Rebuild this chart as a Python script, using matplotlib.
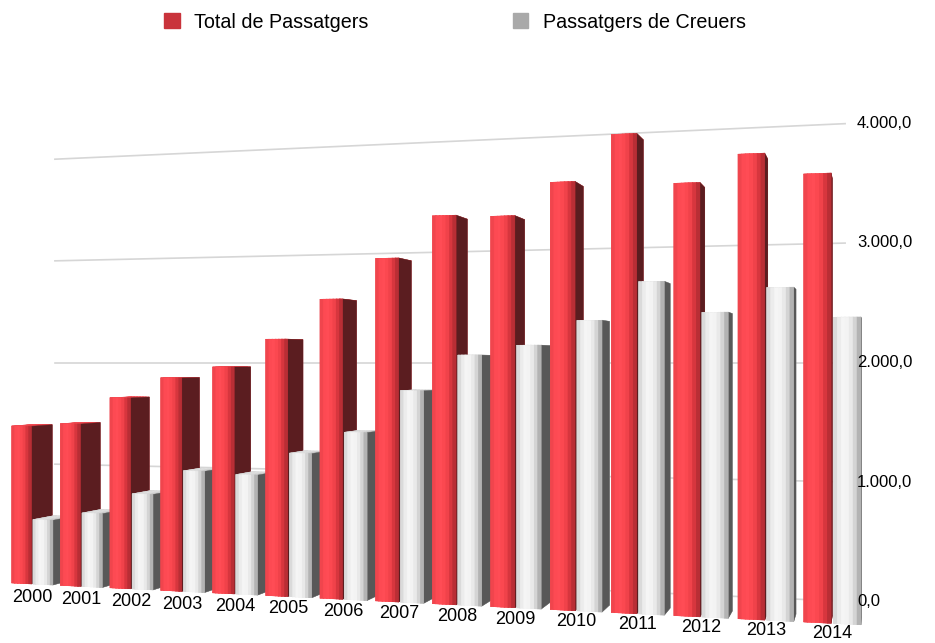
import matplotlib
matplotlib.use('Agg')
import matplotlib.pyplot as plt
from matplotlib.patches import Patch
from matplotlib.transforms import ScaledTranslation
from mpl_toolkits.mplot3d import proj3d
import numpy as np

plt.rcParams['font.family'] = ['Liberation Sans', 'DejaVu Sans']

years = ['2000', '2001', '2002', '2003', '2004', '2005', '2006', '2007',
         '2008', '2009', '2010', '2011', '2012', '2013', '2014']
total = [1424, 1450, 1687, 1865, 1961, 2200, 2537, 2873,
         3216, 3198, 3459, 3824, 3416, 3626, 3453]
creuers = [582, 656, 840, 1054, 1032, 1226, 1411, 1765,
           2061, 2141, 2339, 2643, 2394, 2582, 2347]
ticks = [0, 1000, 2000, 3000, 4000]
tick_labels = ['0,0', '1.000,0', '2.000,0', '3.000,0', '4.000,0']
labels = ['Total de Passatgers', 'Passatgers de Creuers']

# scene geometry (world units: one year slot = 1)
bar_w = 0.41
gap = 0.03
depth = 0.6
wall_y = 1.9
zu = 1.986 / 1000          # world units per passenger
cam_x, cam_y, cam_z = 15.0, -20.0, 2000
yaw = np.arctan(0.256)
f_px = 1282.0
cx, cy = 543.0, 643 - 362.5  # principal point in figure pixels

W_FIG, H_FIG = 935, 643
half = 10.0
s = (1.0 - cam_y) / np.cos(yaw)
tx = cam_x - s * np.sin(yaw)
norm = (1.8294640721620434 * 25 / 24 / np.sqrt(3)) / (2 * half)
f_len = norm * s / 10
W = f_px * 0.185 / f_len
off = 0.095 / 0.185 * W

fig = plt.figure(figsize=(W_FIG / 100, H_FIG / 100), dpi=100)
fig.patch.set_facecolor('white')
ax = fig.add_axes([(cx - off) / W_FIG, (cy - off) / H_FIG, W / W_FIG, W / H_FIG],
                  projection='3d', computed_zorder=False)
ax.set_proj_type('persp', focal_length=f_len)
ax.view_init(elev=0, azim=np.degrees(yaw) - 90)
ax.set_box_aspect((1, 1, 1))
ax.set_axis_off()

# back wall grid
for t in ticks:
    ax.plot([-0.45, 14.58], [wall_y, wall_y], [t, t], color='#d6d6d6', lw=1.2, zorder=1)

# bars: each front split in strips to fake the rounded shading
red_front = ['#f0454d', '#fd4a53', '#ff4c55', '#fb4850', '#f0424a', '#d7363e', '#b92e35']
white_front = ['#dadada', '#ececec', '#f5f5f5', '#f3f3f3', '#e9e9e9', '#d4d4d4', '#b3b3b3']
strips = len(red_front)
sw = bar_w / strips
xs, hs, colors = [], [], []
for i in range(len(years)):
    for k in range(strips):
        last = k == strips - 1
        # face order: bottom, top, front, back, left, right
        rc = red_front[k]
        xs.append(i + k * sw)
        hs.append(total[i])
        colors += [rc, '#ee4a51', rc, rc, rc, '#5b1d20' if last else rc]
        wc = white_front[k]
        xs.append(i + bar_w + gap + k * sw)
        hs.append(creuers[i])
        colors += [wc, '#d4d4d4', wc, wc, wc, '#585858' if last else wc]
xs = np.array(xs, dtype=float)
hs = np.array(hs, dtype=float)
zeros = np.zeros(len(xs))
ax.bar3d(xs, zeros, zeros, sw, depth, hs, color=colors, shade=False,
         edgecolors=colors, linewidth=0.3, zorder=2)

ax.set_xlim(tx - half, tx + half)
ax.set_ylim(1 - half, 1 + half)
ax.set_zlim(cam_z - half / zu, cam_z + half / zu)

# labels placed at projected 3D anchor points, drawn as plain 2D text
M = ax.get_proj()
for t, lab in zip(ticks, tick_labels):
    px, py, _ = proj3d.proj_transform(14.77, wall_y, t, M)
    ax.text2D(px, py, lab, transform=ax.transData, ha='left', va='center',
              fontsize=12, zorder=3)
n = len(years)
for i, y in enumerate(years):
    px, py, _ = proj3d.proj_transform(i + bar_w + gap / 2, 0, 0, M)
    drop = (13.5 - 3.5 * i / (n - 1)) / 100
    tr = ax.transData + ScaledTranslation(0, -drop, fig.dpi_scale_trans)
    ax.text2D(px, py, y, transform=tr, ha='center', va='center',
              fontsize=13, zorder=3)

fig.legend(handles=[Patch(color='#c9333b'), Patch(color='#a9a9a9')], labels=labels,
           loc='center', bbox_to_anchor=(0.4866, 1 - 22 / 643), ncol=2, frameon=False,
           fontsize=14.2, handlelength=0.79, handleheight=0.79, handletextpad=0.75,
           columnspacing=7.3)

fig.savefig('out.png', dpi=100, facecolor='white')
